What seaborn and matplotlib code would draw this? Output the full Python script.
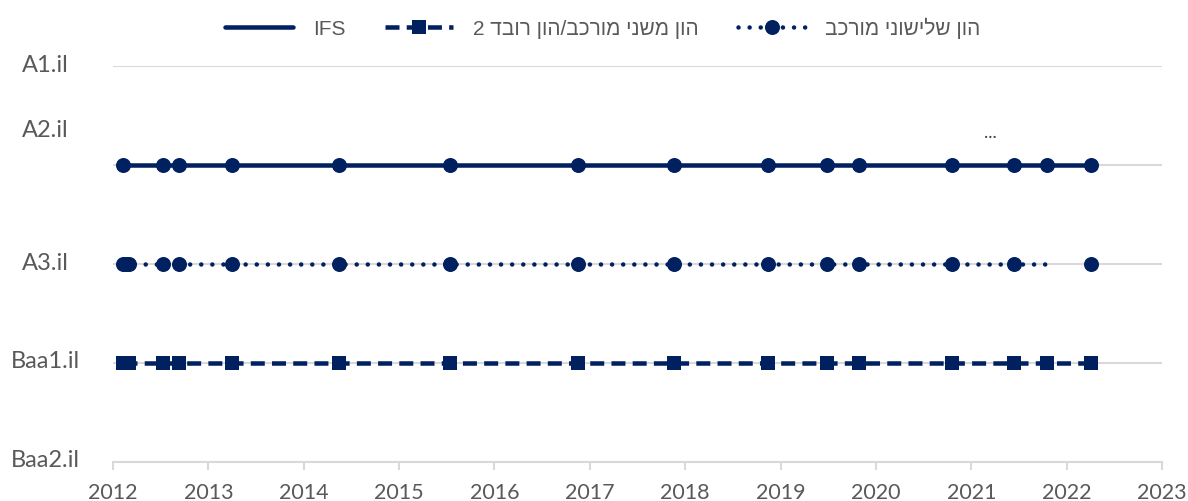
import numpy as np
import pandas as pd
import matplotlib
matplotlib.use("Agg")
import matplotlib.pyplot as plt
import matplotlib.transforms as mtrans
from matplotlib.lines import Line2D
import seaborn as sns

# ---------------- data ----------------
rating_labels = ["A1.il", "A2.il", "A3.il", "Baa1.il", "Baa2.il"]
rating_values = [5, 4, 3, 2, 1]

ifs_x = [2012.10, 2012.52, 2012.69, 2013.25, 2014.37, 2015.53, 2016.88, 2017.88,
         2018.87, 2019.49, 2019.82, 2020.80, 2021.45, 2021.79, 2022.26]
ifs_y = [4] * len(ifs_x)

tier2_x = [2012.10, 2012.17, 2012.52, 2012.69, 2013.25, 2014.37, 2015.53, 2016.88,
           2017.88, 2018.87, 2019.49, 2019.82, 2020.80, 2021.45, 2021.79, 2022.26]
tier2_y = [2] * len(tier2_x)

tert_x = [2012.10, 2012.14, 2012.17, 2012.52, 2012.69, 2013.25, 2014.37, 2015.53,
          2016.88, 2017.88, 2018.87, 2019.49, 2019.82, 2020.80, 2021.45, 2021.79]
tert_y = [3] * len(tert_x)
tert_last_x = [2022.26]
tert_last_y = [3]

series_names = ["IFS", "הון משני מורכב/הון רובד 2", "הון שלישוני מורכב"]
note_text = "..."
years = list(range(2012, 2024))


def visual(s):
    """Reorder a logical RTL string for left-to-right glyph rendering."""
    if not any("\u0590" <= c <= "\u05FF" for c in s):
        return s
    out = []
    buf = ""
    for c in s[::-1]:
        if c.isdigit():
            buf = c + buf
        else:
            if buf:
                out.append(buf)
                buf = ""
            out.append(c)
    if buf:
        out.append(buf)
    return "".join(out)


# ---------------- style ----------------
sns.set_theme(style="white")
plt.rcParams["font.family"] = ["Lato", "DejaVu Sans"]

navy = "#002060"
grid_c = "#d9d9d9"
text_c = "#595959"

fig = plt.figure(figsize=(11.88, 5.01), dpi=100)
ax = fig.add_axes([113 / 1188, 1 - 462 / 501, (1162 - 113) / 1188, (462 - 66) / 501])

lw = 3.25
# IFS solid
sns.lineplot(x=ifs_x, y=ifs_y, ax=ax, color=navy, lw=lw, marker="o", markersize=10.8,
             markeredgewidth=0, sort=False, estimator=None, label=series_names[0],
             legend=False)
# Tier 2 dashed squares
sns.lineplot(x=tier2_x, y=tier2_y, ax=ax, color=navy, lw=lw, marker="s", markersize=10,
             markeredgewidth=0, linestyle=(0, (3.1, 1.6)), sort=False, estimator=None,
             label=series_names[1], legend=False)
# Tertiary dotted circles
mk = list(range(len(tert_x) - 1))
sns.lineplot(x=tert_x, y=tert_y, ax=ax, color=navy, lw=lw, marker="o", markersize=10.8,
             markeredgewidth=0, linestyle=(0, (0.01, 2.45)), dash_capstyle="round",
             markevery=mk, sort=False, estimator=None, label=series_names[2],
             legend=False)
sns.lineplot(x=tert_last_x, y=tert_last_y, ax=ax, color=navy, lw=lw, marker="o",
             markersize=10.8, markeredgewidth=0, sort=False, estimator=None, legend=False)

# axes
ax.set_xlim(2012, 2023)
ax.set_ylim(1, 5)
ax.set_xticks(years)
ax.set_xticklabels([str(y) for y in years])
ax.set_yticks(rating_values)
ax.set_yticklabels([])
ax.grid(axis="y", color=grid_c, lw=1.5)
ax.grid(axis="x", visible=False)
ax.set_axisbelow(True)
for s in ["top", "right", "left"]:
    ax.spines[s].set_visible(False)
ax.spines["bottom"].set_color(grid_c)
ax.spines["bottom"].set_linewidth(1.5)
ax.tick_params(axis="x", bottom=True, length=6, width=1.5, color=grid_c,
               labelsize=15.5, labelcolor=text_c, pad=9)
ax.tick_params(axis="y", left=False, length=0)

# y labels (Excel-positioned)
tr = mtrans.blended_transform_factory(fig.transFigure, ax.transData)
label_y = [5, 4.35, 3, 2.02, 1.02]
for lab, yy in zip(rating_labels, label_y):
    ax.text(45 / 1188, yy, lab, transform=tr, ha="center", va="center",
            fontsize=17, color=text_c)

ax.text(2021.2, 4.32, note_text, ha="center", va="center", fontsize=13, color="#404040")

# legend
handles = [
    Line2D([], [], color=navy, lw=lw),
    Line2D([], [], color=navy, lw=lw, linestyle=(0, (3.1, 1.6)), marker="s",
           markersize=10, markeredgewidth=0),
    Line2D([], [], color=navy, lw=lw, linestyle=(0, (0.01, 2.45)), dash_capstyle="round",
           marker="o", markersize=10.8, markeredgewidth=0),
]
leg = fig.legend(handles, [visual(n) for n in series_names], loc="center",
                 bbox_to_anchor=(0.5 + 9 / 1188, 1 - 28 / 501), ncol=3, frameon=False,
                 handlelength=3.25, handletextpad=0.95, columnspacing=1.9,
                 prop={"family": ["Liberation Sans Narrow", "Liberation Sans", "DejaVu Sans"],
                       "size": 15})
for t in leg.get_texts():
    t.set_color(text_c)

fig.savefig("out.png", dpi=100)
